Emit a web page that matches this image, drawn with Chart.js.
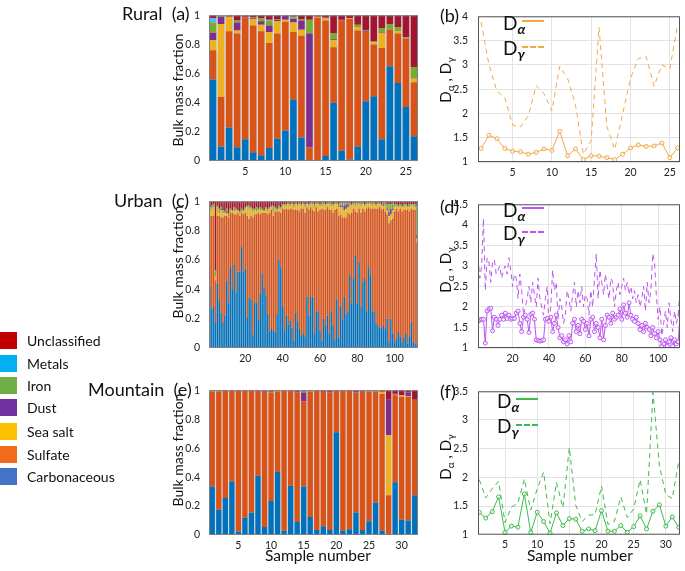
<!DOCTYPE html>
<html lang="en">
<head>
<meta charset="UTF-8">
<title>Bulk mass fraction and D alpha / D gamma by site</title>
<script src="https://cdn.jsdelivr.net/npm/chart.js"></script>
<style>
  body { margin:0; width:685px; height:571px; position:relative; background:#fff; font-family: Lato, sans-serif; color:#111; overflow:hidden; }
  canvas { position:absolute; }
  .lbl { position:absolute; white-space:nowrap; line-height:1; }
  .rot { position:absolute; white-space:nowrap; line-height:1; transform: translate(-50%,-50%) rotate(-90deg); }
  .rot sub { font-size:10px; vertical-align:-3px; }
  .leg sub { font-size:14px; font-weight:bold; font-style:italic; vertical-align:-4px; }
  .sw { position:absolute; left:0; width:17px; height:17px; }
  .lgt { position:absolute; left:27px; font-size:14px; line-height:17px; white-space:nowrap; }
  .ln { position:absolute; height:0; width:22px; }
</style>
</head>
<body>
  <canvas id="ruralBar" width="272" height="180" style="left:149px;top:0px"></canvas>
  <canvas id="urbanBar" width="272" height="181" style="left:149px;top:186px"></canvas>
  <canvas id="mtnBar" width="272" height="176" style="left:149px;top:375px"></canvas>
  <canvas id="ruralLine" width="255" height="180" style="left:430px;top:0px"></canvas>
  <canvas id="urbanLine" width="255" height="179" style="left:430px;top:188px"></canvas>
  <canvas id="mtnLine" width="255" height="176" style="left:430px;top:375px"></canvas>

  <div class="lbl" style="left:122px;top:4px;font-size:18px">Rural&nbsp; (a)</div>
  <div class="lbl" style="left:114px;top:191px;font-size:18px">Urban&nbsp; (c)</div>
  <div class="lbl" style="left:88px;top:380px;font-size:18px">Mountain&nbsp; (e)</div>
  <div class="lbl" style="left:440px;top:6px;font-size:18px">(b)</div>
  <div class="lbl" style="left:440px;top:197px;font-size:18px">(d)</div>
  <div class="lbl" style="left:440px;top:382px;font-size:18px">(f)</div>

  <div class="rot" style="left:178px;top:90px;font-size:14px">Bulk mass fraction</div>
  <div class="rot" style="left:178px;top:262px;font-size:14px">Bulk mass fraction</div>
  <div class="rot" style="left:178px;top:450px;font-size:14px">Bulk mass fraction</div>
  <div class="rot" style="left:446px;top:80px;font-size:15px">D<sub>α</sub> , D<sub>γ</sub></div>
  <div class="rot" style="left:446px;top:270px;font-size:15px">D<sub>α</sub> , D<sub>γ</sub></div>
  <div class="rot" style="left:446px;top:457px;font-size:15px">D<sub>α</sub> , D<sub>γ</sub></div>

  <div class="lbl" style="left:265px;top:548px;font-size:15.5px">Sample number</div>
  <div class="lbl" style="left:527px;top:548px;font-size:15.5px">Sample number</div>

  <div id="legends"></div>
  <div id="legend"></div>

<script>
// categories, bottom of the stack first
const categories = ['Carbonaceous', 'Sulfate', 'Sea salt', 'Dust', 'Iron', 'Metals', 'Unclassified'];
const barColors = ['#0072BD', '#D95319', '#EDB120', '#7E2F8E', '#77AC30', '#4DBEEE', '#A2142F'];
const legendColors = ['#4472C4', '#F26B1D', '#FFC000', '#7030A0', '#70AD47', '#00B0F0', '#C00000'];

// Rural (a), 26 samples
const ruralCarb  = [0.56,0.10,0.23,0.095,0.15,0.06,0.04,0.09,0.155,0.21,0.42,0.16,0.005,0.003,0.035,0.40,0.07,0.01,0.10,0.41,0.445,0.15,0.65,0.535,0.37,0.17];
const ruralSulf  = [0.20,0.34,0.66,0.78,0.835,0.87,0.85,0.72,0.72,0.745,0.465,0.70,0.09,0.98,0.93,0.38,0.895,0.965,0.795,0.475,0.355,0.625,0.25,0.34,0.47,0.37];
const ruralSalt  = [0.07,0.50,0.10,0.02,0,0.045,0.045,0.075,0.085,0.015,0.065,0.04,0,0.007,0.015,0.05,0,0.005,0.025,0,0.015,0.105,0,0.015,0,0.025];
const ruralDust  = [0.05,0.05,0.01,0.055,0.005,0.005,0.025,0.045,0.01,0.03,0.025,0.065,0.78,0,0.005,0.005,0.005,0,0,0.005,0,0.005,0,0,0,0];
const ruralIron  = [0.07,0.01,0,0.015,0,0.005,0.02,0.035,0.005,0,0.01,0.01,0.095,0,0,0.04,0,0,0.015,0.005,0.005,0.025,0.04,0.03,0.01,0.08];
const ruralMetal = [0.03,0,0,0,0,0,0,0.005,0,0,0.005,0,0,0,0,0,0,0,0,0,0,0,0,0,0,0];
const ruralUncl  = [0.02,0,0,0.035,0.01,0.015,0.02,0.03,0.025,0,0.01,0.025,0.03,0.01,0.015,0.125,0.03,0.02,0.065,0.105,0.18,0.09,0.06,0.08,0.15,0.355];

// Urban (c), 112 samples
const urbCarb = [0.42,0.27,0.28,0.17,0.44,0.32,0.24,0.17,0.22,0.46, 0.31,0.55,0.40,0.57,0.38,0.52,0.52,0.69,0.52,0.54,
  0.21,0.34,0.33,0.09,0.31,0.31,0.19,0.37,0.51,0.41, 0.36,0.23,0.11,0.13,0.12,0.11,0.23,0.60,0.55,0.28,
  0.12,0.22,0.16,0.19,0.14,0.05,0.24,0.18,0.13,0.08, 0.10,0.08,0.35,0.22,0.35,0.35,0.10,0.25,0.25,0.12,
  0.05,0.20,0.15,0.22,0.10,0.25,0.15,0.06,0.33,0.07, 0.28,0.20,0.35,0.23,0.25,0.50,0.30,0.47,0.63,0.30,
  0.58,0.28,0.45,0.47,0.25,0.55,0.50,0.25,0.25,0.17, 0.15,0.14,0.13,0.15,0.13,0.20,0.04,0.20,0.10,0.04,
  0.06,0.11,0.08,0.04,0.07,0.10,0.03,0.08,0.17,0.04, 0.03,0.02];
const urbSulf = [0.48,0.63,0.62,0.29,0.46,0.58,0.65,0.72,0.68,0.44, 0.58,0.37,0.52,0.34,0.53,0.40,0.38,0.23,0.39,0.38,
  0.69,0.54,0.57,0.80,0.60,0.60,0.73,0.54,0.41,0.51, 0.56,0.68,0.81,0.81,0.78,0.82,0.70,0.33,0.37,0.67,
  0.82,0.73,0.78,0.76,0.81,0.89,0.70,0.76,0.80,0.87, 0.85,0.84,0.61,0.72,0.61,0.59,0.83,0.71,0.68,0.82,
  0.90,0.74,0.79,0.74,0.84,0.69,0.77,0.88,0.62,0.83, 0.63,0.69,0.54,0.66,0.67,0.41,0.62,0.48,0.30,0.62,
  0.37,0.64,0.50,0.46,0.70,0.41,0.45,0.70,0.70,0.78, 0.80,0.82,0.81,0.80,0.80,0.71,0.81,0.67,0.78,0.89,
  0.89,0.82,0.87,0.89,0.87,0.84,0.91,0.85,0.78,0.90, 0.91,0.70];
const urbSalt = [0.03,0.05,0.06,0.03,0.06,0.02,0.05,0.03,0.02,0.02, 0.01,0.02,0.01,0.02,0.03,0.01,0.02,0.01,0.02,0.03,
  0.06,0.07,0.05,0.04,0.03,0.02,0.02,0.03,0.02,0.01, 0.03,0.02,0.03,0.02,0.03,0.02,0.01,0.02,0.03,0.02,
  0.03,0.02,0.04,0.02,0.03,0.02,0.04,0.03,0.05,0.02, 0.03,0.04,0.02,0.03,0.02,0.04,0.03,0.02,0.05,0.03,
  0.02,0.04,0.03,0.02,0.04,0.03,0.05,0.04,0.03,0.06, 0.05,0.07,0.05,0.06,0.04,0.06,0.05,0.03,0.04,0.06,
  0.03,0.05,0.03,0.04,0.03,0.02,0.03,0.02,0.03,0.02, 0.03,0.02,0.03,0.02,0.04,0.03,0.05,0.04,0.06,0.03,
  0.02,0.03,0.02,0.03,0.02,0.03,0.02,0.03,0.02,0.03, 0.02,0.03];
const urbDust = [0,0,0,0,0,0,0.01,0,0,0.01, 0,0,0,0,0,0,0,0,0,0,
  0,0,0,0,0,0,0,0,0,0, 0,0,0,0,0,0,0,0,0,0,
  0,0,0,0,0,0,0,0,0,0, 0,0,0,0,0,0,0,0,0,0,
  0,0,0,0,0,0,0,0,0,0, 0.01,0.01,0.03,0.03,0.02,0,0,0,0,0,
  0,0,0,0,0,0,0,0,0,0, 0,0,0,0.01,0,0.01,0.03,0.04,0.01,0,
  0,0,0,0,0,0,0,0,0,0, 0,0.02];
const urbIron = [0.03,0.02,0.02,0.04,0.01,0.03,0.01,0.02,0.01,0.02, 0.02,0.01,0.01,0.03,0.01,0.01,0.01,0.02,0.01,0.01,
  0.01,0.02,0.01,0.02,0.01,0.03,0.01,0.02,0.01,0.01, 0.01,0.02,0.01,0.01,0.04,0.01,0.01,0.02,0.01,0.01,
  0.01,0.01,0.01,0.01,0.01,0.02,0.01,0.01,0.01,0.01, 0.01,0.02,0.01,0.01,0.01,0.01,0.02,0.01,0.01,0.01,
  0.02,0.01,0.01,0.01,0.01,0.02,0.01,0.01,0.01,0.02, 0.01,0.02,0.01,0.01,0.01,0.02,0.01,0.01,0.02,0.01,
  0.01,0.02,0.01,0.01,0.01,0.01,0.01,0.02,0.01,0.01, 0.01,0.01,0.01,0.01,0.02,0.03,0.05,0.03,0.04,0.02,
  0.01,0.01,0.01,0.01,0.02,0.01,0.01,0.02,0.01,0.01, 0.02,0.20];
const urbMetal = [0,0,0,0,0,0,0,0,0,0, 0,0,0,0,0,0,0,0,0,0,
  0,0,0,0,0,0,0,0,0,0, 0,0,0,0,0,0,0,0,0,0,
  0,0,0,0,0,0,0,0,0,0, 0,0,0,0,0,0,0,0,0,0,
  0,0,0,0,0,0,0,0,0,0, 0.01,0,0.01,0,0,0,0,0,0,0,
  0,0,0,0,0,0,0,0,0,0, 0,0,0,0,0,0,0,0,0,0,
  0,0,0,0,0,0,0,0,0,0, 0,0];
const urbUncl = [0.04,0.03,0.02,0.47,0.03,0.05,0.04,0.06,0.07,0.05, 0.08,0.05,0.06,0.04,0.05,0.06,0.07,0.05,0.06,0.04,
  0.03,0.03,0.04,0.05,0.05,0.04,0.05,0.04,0.05,0.06, 0.04,0.05,0.04,0.03,0.03,0.04,0.05,0.03,0.04,0.02,
  0.02,0.02,0.01,0.02,0.01,0.02,0.01,0.02,0.01,0.02, 0.01,0.02,0.01,0.02,0.01,0.01,0.02,0.01,0.01,0.02,
  0.01,0.01,0.02,0.01,0.01,0.01,0.02,0.01,0.01,0.02, 0.01,0.01,0.01,0.01,0.01,0.01,0.02,0.01,0.01,0.01,
  0.01,0.01,0.01,0.02,0.01,0.01,0.01,0.01,0.01,0.02, 0.01,0.01,0.02,0.01,0.01,0.02,0.02,0.02,0.01,0.02,
  0.02,0.03,0.02,0.03,0.02,0.02,0.03,0.02,0.02,0.02, 0.02,0.03];

// Mountain (e), 32 samples
const mtnCarb  = [0.335,0.175,0.255,0.37,0.025,0.12,0.155,0.41,0.055,0.235,0.435,0.03,0.34,0.09,0.335,0.125,0.035,0.06,0.035,0.71,0.03,0.04,0.155,0.035,0.095,0.225,0.03,0,0.365,0.105,0.10,0.275];
const mtnSulf  = [0.655,0.815,0.74,0.625,0.97,0.875,0.84,0.585,0.935,0.75,0.555,0.965,0.655,0.895,0.59,0.865,0.96,0.93,0.95,0.285,0.965,0.955,0.83,0.955,0.895,0.765,0.945,0.275,0.60,0.85,0.855,0.66];
const mtnSalt  = [0,0,0,0,0,0,0,0,0,0,0,0,0,0,0,0,0,0,0,0,0,0,0,0,0,0,0.015,0.415,0.005,0.01,0.005,0];
const mtnDust  = [0,0,0,0,0,0,0,0,0,0,0,0,0,0.005,0.06,0,0,0,0.01,0,0,0,0.01,0.005,0,0,0,0.245,0.01,0,0.025,0];
const mtnIron  = [0.005,0.005,0,0,0,0,0,0,0,0.005,0.005,0,0,0,0.01,0.005,0,0,0,0,0,0,0,0,0.005,0.005,0,0,0,0,0,0];
const mtnMetal = [0,0,0,0,0,0,0,0,0,0,0,0,0,0,0,0,0,0,0,0,0,0,0,0,0,0,0,0,0,0,0,0];
const mtnUncl  = [0.005,0.005,0.005,0.005,0.005,0.005,0.005,0.005,0.01,0.01,0.005,0.005,0.005,0.01,0.005,0.005,0.005,0.01,0.005,0.005,0.005,0.005,0.005,0.005,0.005,0.005,0.01,0.065,0.02,0.035,0.015,0.065];

// D alpha / D gamma
const ruralDa = [1.28,1.55,1.48,1.28,1.22,1.21,1.16,1.20,1.27,1.24,1.63,1.13,1.27,1.05,1.13,1.12,1.09,1.05,1.16,1.29,1.35,1.32,1.33,1.39,1.09,1.29];
const ruralDg = [3.88,3.00,2.46,2.33,1.76,1.72,1.95,2.57,2.41,2.05,2.97,2.72,2.18,1.16,1.45,3.77,1.73,1.26,1.99,2.72,3.13,3.17,2.56,3.00,2.92,3.82];
const urbDa = [1.65,1.68,1.70,1.70,1.12,1.90,1.95,1.97,1.42,1.75, 1.70,1.55,1.70,1.80,1.70,1.85,1.72,1.80,1.70,1.72,
  1.72,1.85,1.90,1.60,1.40,1.75,1.80,1.70,1.38,1.82, 1.85,1.70,1.20,1.18,1.17,1.18,1.20,1.70,1.72,1.65,
  1.75,1.40,1.60,1.80,1.50,1.25,1.30,1.15,1.20,1.10, 1.30,1.15,1.60,1.70,1.40,1.55,1.35,1.70,1.65,1.45,
  1.60,1.30,1.70,1.75,1.40,1.60,1.50,1.25,1.70,1.20, 1.55,1.80,1.75,1.60,1.85,1.70,1.75,1.80,1.95,1.70,
  2.05,1.85,1.75,2.10,1.80,1.70,1.65,1.75,1.60,1.45, 1.55,1.40,1.60,1.50,1.45,1.30,1.50,1.35,1.25,1.40,
  1.20,1.05,1.10,1.20,1.05,1.15,1.25,1.05,1.20,1.10, 1.15,1.80];
const urbDg = [3.20,2.70,3.00,4.15,2.40,3.20,3.10,2.60,3.10,3.15, 2.80,2.90,3.00,2.70,2.90,3.00,2.80,3.20,2.90,2.50,
  2.80,2.70,2.20,2.80,2.40,1.80,2.00,2.20,2.50,2.10, 2.60,2.30,2.00,2.70,2.20,2.00,1.80,2.20,2.50,1.60,
  2.00,2.90,2.40,2.60,1.70,2.20,2.00,1.60,1.80,2.40, 2.20,1.90,2.30,2.60,2.00,2.40,2.10,2.50,2.00,2.30,
  2.20,1.80,2.40,2.00,2.70,3.30,2.20,2.90,2.60,2.30, 2.80,2.50,2.20,2.70,2.60,2.00,2.40,2.60,2.30,2.50,
  2.70,2.40,2.60,2.30,2.50,2.20,2.40,2.10,2.30,2.00, 2.20,2.50,1.90,2.60,2.10,2.40,3.30,3.10,2.30,1.70,
  2.00,1.30,1.60,1.90,1.50,2.10,1.70,1.40,1.90,1.60, 1.80,2.40];
const mtnDa = [1.39,1.29,1.40,1.66,1.04,1.15,1.13,1.71,1.04,1.39,1.23,1.03,1.38,1.16,1.28,1.27,1.06,1.10,1.07,1.42,1.06,1.06,1.16,1.04,1.14,1.33,1.10,1.41,1.52,1.15,1.31,1.13];
const mtnDg = [1.96,1.64,1.80,1.93,1.21,1.48,1.55,1.97,1.43,1.80,2.09,1.19,1.91,1.47,2.52,1.51,1.23,1.34,1.35,1.85,1.18,1.23,1.66,1.30,1.45,1.96,1.36,3.48,2.20,1.70,1.63,2.28];

const ruralColor = '#f4a744';
const urbanColor = '#bb55ee';
const mtnColor = '#3dbb4a';

Chart.defaults.font.family = 'Lato, sans-serif';
Chart.defaults.font.size = 10.5;
Chart.defaults.color = '#222';
Chart.defaults.animation = false;

// fills the plot area behind the bars and draws the box round it
const frame = {
  id: 'frame',
  beforeDatasetsDraw(chart, args, opts) {
    if (!opts.bg) return;
    const a = chart.chartArea, c = chart.ctx;
    c.save();
    c.fillStyle = opts.bg;
    c.fillRect(a.left, a.top, a.width, a.height);
    c.restore();
  },
  afterDraw(chart, args, opts) {
    const a = chart.chartArea, c = chart.ctx;
    c.save();
    c.strokeStyle = opts.color || '#666';
    c.lineWidth = 1;
    c.strokeRect(a.left + 0.5, a.top + 0.5, a.width - 1, a.height - 1);
    c.restore();
  }
};

const fmt = v => String(Math.round(v * 10) / 10);

function barChart(id, series, every, xh, barPct) {
  const labels = series[0].map((v, i) => String(i + 1));
  return new Chart(document.getElementById(id), {
    type: 'bar',
    data: {
      labels: labels,
      datasets: series.map((d, k) => ({
        label: categories[k],
        data: d,
        backgroundColor: barColors[k],
        borderWidth: 0,
        barPercentage: barPct,
        categoryPercentage: 1
      }))
    },
    plugins: [frame],
    options: {
      responsive: false,
      layout: { padding: { top: 4, right: 3, left: 0, bottom: 0 } },
      plugins: { legend: { display: false }, tooltip: { enabled: false }, frame: { bg: '#d9d9d9', color: '#808080' } },
      scales: {
        x: {
          stacked: true,
          grid: { display: false, drawTicks: false },
          border: { display: false },
          afterFit: s => { s.height = xh; },
          ticks: {
            autoSkip: false, maxRotation: 0, padding: 4,
            callback: (v, i) => ((i + 1) % every === 0 ? String(i + 1) : '')
          }
        },
        y: {
          stacked: true,
          min: 0, max: 1,
          grid: { display: false, drawTicks: false },
          border: { display: false },
          afterFit: s => { s.width = 60; },
          ticks: { stepSize: 0.2, padding: 9, callback: fmt }
        }
      }
    }
  });
}

function lineChart(id, da, dg, color, xmin, xmax, xticks, ymax, xh) {
  const pts = arr => arr.map((v, i) => ({ x: i + 1, y: v }));
  return new Chart(document.getElementById(id), {
    type: 'line',
    data: {
      datasets: [
        { label: 'Dα', data: pts(da), borderColor: color, borderWidth: 1, pointRadius: 2,
          pointBorderColor: color, pointBackgroundColor: 'rgba(255,255,255,0.6)', pointBorderWidth: 1, tension: 0 },
        { label: 'Dγ', data: pts(dg), borderColor: color, borderWidth: 1, borderDash: [5, 4],
          pointRadius: 0, tension: 0 }
      ]
    },
    plugins: [frame],
    options: {
      responsive: false,
      layout: { padding: { top: 4, right: 2, left: 0, bottom: 0 } },
      plugins: { legend: { display: false }, tooltip: { enabled: false }, frame: { color: '#555' } },
      scales: {
        x: {
          type: 'linear', min: xmin, max: xmax,
          grid: { color: '#e3e3e3', drawTicks: false },
          border: { display: false },
          afterFit: s => { s.height = xh; },
          afterBuildTicks: s => { s.ticks = xticks.map(v => ({ value: v })); },
          ticks: { padding: 4, maxRotation: 0 }
        },
        y: {
          min: 1, max: ymax,
          grid: { color: '#e3e3e3', drawTicks: false },
          border: { display: false },
          afterFit: s => { s.width = 48; },
          ticks: { stepSize: 0.5, padding: 10, callback: fmt }
        }
      }
    }
  });
}

barChart('ruralBar', [ruralCarb, ruralSulf, ruralSalt, ruralDust, ruralIron, ruralMetal, ruralUncl], 5, 19, 0.82);
barChart('urbanBar', [urbCarb, urbSulf, urbSalt, urbDust, urbIron, urbMetal, urbUncl], 20, 19, 0.78);
barChart('mtnBar', [mtnCarb, mtnSulf, mtnSalt, mtnDust, mtnIron, mtnMetal, mtnUncl], 5, 16, 0.82);

lineChart('ruralLine', ruralDa, ruralDg, ruralColor, 0.6, 26.3, [5, 10, 15, 20, 25], 4, 18);
lineChart('urbanLine', urbDa, urbDg, urbanColor, 1, 112, [20, 40, 60, 80, 100], 4.5, 19);
lineChart('mtnLine', mtnDa, mtnDg, mtnColor, 0.8, 32.2, [5, 10, 15, 20, 25, 30], 3.5, 16);

// in-plot legends of the line panels
const inLegends = [
  { color: ruralColor, x: 503, y1: 13, y2: 38 },
  { color: urbanColor, x: 503, y1: 200, y2: 223 },
  { color: mtnColor, x: 497, y1: 391, y2: 416 }
];
let html = '';
inLegends.forEach(L => {
  html += `<div class="lbl leg" style="left:${L.x}px;top:${L.y1}px;font-size:19px">D<sub>α</sub></div>`;
  html += `<div class="ln" style="left:${L.x + 19}px;top:${L.y1 + 7}px;border-top:2px solid ${L.color}"></div>`;
  html += `<div class="lbl leg" style="left:${L.x}px;top:${L.y2}px;font-size:19px">D<sub>γ</sub></div>`;
  html += `<div class="ln" style="left:${L.x + 19}px;top:${L.y2 + 8}px;border-top:2px dashed ${L.color}"></div>`;
});
document.getElementById('legends').innerHTML = html;

// category legend, top row is the top of the stack
const legendTops = [332, 355, 377, 399, 423, 446, 468];
let lh = '';
for (let k = categories.length - 1, r = 0; k >= 0; k--, r++) {
  lh += `<div class="sw" style="top:${legendTops[r]}px;background:${legendColors[k]}"></div>`;
  lh += `<div class="lgt" style="top:${legendTops[r]}px">${categories[k]}</div>`;
}
document.getElementById('legend').innerHTML = lh;
</script>
</body>
</html>
